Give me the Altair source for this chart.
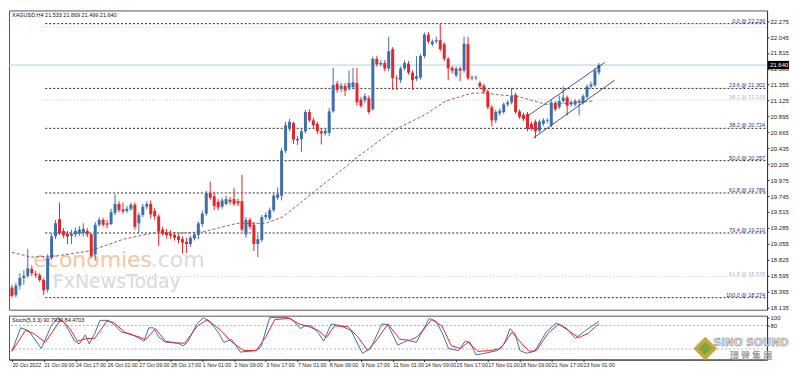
import altair as alt
import pandas as pd

# ---------------- data ----------------
title_text = "XAGUSD,H4  21.533 21.669 21.499 21.640"
stoch_text = "Stoch(5,3,3) 90.7930 84.4703"

opens = [18.42, 18.31, 18.45, 18.56, 18.59, 18.69, 18.62, 18.60, 18.53, 18.39,
         18.85, 19.16, 19.41, 19.24, 19.20, 19.17, 19.19, 19.20, 19.21, 19.24,
         19.19, 18.90, 19.33, 19.40, 19.35, 19.34, 19.50, 19.63, 19.55, 19.53,
         19.56, 19.62, 19.35, 19.47, 19.59, 19.63, 19.53, 19.45, 19.26, 19.22,
         19.20, 19.18, 19.16, 19.12, 19.08, 19.05, 19.13, 19.18, 19.34, 19.49,
         19.79, 19.74, 19.66, 19.59, 19.63, 19.69, 19.70, 19.67, 19.67, 19.19,
         19.40, 19.33, 19.05, 19.11, 19.44, 19.42, 19.54, 19.72, 19.75, 20.40,
         20.72, 20.80, 20.55, 20.57, 20.68, 20.96, 20.84, 20.79, 20.68, 20.65,
         20.66, 20.97, 21.37, 21.30, 21.34, 21.31, 21.32, 21.38, 21.14, 21.13,
         21.16, 21.00, 21.73, 21.65, 21.67, 21.59, 21.87, 21.45, 21.42, 21.59,
         21.66, 21.53, 21.44, 21.46, 21.77, 22.08, 21.94, 21.98, 22.00, 21.94,
         21.73, 21.60, 21.49, 21.59, 21.56, 21.94, 21.46, 21.45, 21.38, 21.34,
         21.26, 21.03, 20.84, 20.94, 20.96, 21.07, 21.10, 21.21, 20.97, 20.92,
         20.93, 20.79, 20.82, 20.69, 20.79, 20.83, 20.77, 21.09, 21.03, 21.12,
         21.17, 21.07, 21.07, 21.10, 21.10, 21.18, 21.33, 21.35, 21.533]
highs = [18.46, 18.49, 18.63, 18.67, 18.98, 18.74, 18.66, 18.63, 18.56, 18.90,
         19.21, 19.40, 19.65, 19.28, 19.24, 19.26, 19.29, 19.31, 19.35, 19.28,
         19.21, 19.37, 19.44, 19.43, 19.40, 19.56, 19.77, 19.67, 19.65, 19.60,
         19.65, 19.65, 19.51, 19.63, 19.67, 19.68, 19.57, 19.48, 19.30, 19.27,
         19.25, 19.22, 19.19, 19.16, 19.14, 19.17, 19.22, 19.38, 19.53, 19.82,
         19.95, 19.81, 19.70, 19.72, 19.75, 19.73, 19.86, 19.71, 20.05, 19.44,
         19.43, 19.37, 19.19, 19.47, 19.51, 19.58, 19.78, 19.87, 20.44, 20.82,
         20.86, 20.82, 20.61, 20.72, 20.99, 21.00, 20.88, 20.82, 20.72, 20.73,
         21.02, 21.60, 21.41, 21.38, 21.38, 21.56, 21.60, 21.60, 21.18, 21.23,
         21.20, 21.76, 21.77, 21.71, 21.71, 22.05, 21.90, 21.49, 21.62, 21.71,
         21.70, 21.56, 21.77, 21.80, 22.11, 22.12, 22.01, 22.05, 22.239, 21.97,
         21.76, 21.63, 21.62, 21.62, 22.05, 22.05, 21.49, 21.49, 21.41, 21.37,
         21.29, 21.06, 20.99, 21.01, 21.10, 21.13, 21.31, 21.24, 21.00, 20.95,
         20.96, 20.82, 20.85, 20.85, 20.87, 20.87, 21.13, 21.12, 21.20, 21.33,
         21.20, 21.13, 21.15, 21.15, 21.22, 21.36, 21.40, 21.60, 21.669]
lows = [18.274, 18.28, 18.39, 18.46, 18.56, 18.59, 18.56, 18.50, 18.31, 18.35,
        18.82, 19.12, 19.18, 19.14, 19.05, 19.05, 19.15, 19.17, 19.16, 19.15,
        18.84, 18.81, 19.30, 19.30, 19.28, 19.32, 19.47, 19.51, 19.49, 19.50,
        19.53, 19.26, 19.21, 19.44, 19.55, 19.42, 19.40, 19.02, 19.17, 19.13,
        19.12, 19.10, 19.06, 18.91, 18.92, 19.01, 19.10, 19.12, 19.30, 19.46,
        19.69, 19.54, 19.54, 19.56, 19.61, 19.62, 19.60, 19.60, 19.23, 19.14,
        19.26, 18.95, 18.86, 19.08, 19.40, 19.39, 19.51, 19.69, 19.68, 20.37,
        20.68, 20.50, 20.48, 20.38, 20.65, 20.81, 20.72, 20.64, 20.49, 20.62,
        20.61, 20.95, 21.24, 21.25, 21.19, 21.27, 21.29, 21.05, 21.02, 21.09,
        20.93, 20.98, 21.62, 21.62, 21.55, 21.55, 21.28, 21.28, 21.38, 21.56,
        21.50, 21.28, 21.41, 21.43, 21.74, 21.95, 21.91, 21.95, 21.84, 21.70,
        21.42, 21.52, 21.46, 21.41, 21.53, 21.42, 21.42, 21.42, 21.30, 21.22,
        21.00, 20.75, 20.80, 20.91, 20.93, 21.04, 21.07, 20.93, 20.86, 20.83,
        20.68, 20.69, 20.58, 20.66, 20.76, 20.80, 20.74, 20.97, 21.00, 21.09,
        20.91, 21.04, 21.04, 20.91, 21.07, 21.15, 21.30, 21.32, 21.499]
closes = [18.30, 18.45, 18.56, 18.59, 18.70, 18.63, 18.60, 18.53, 18.38, 18.85,
          19.16, 19.35, 19.21, 19.18, 19.16, 19.20, 19.24, 19.26, 19.27, 19.19,
          18.88, 19.33, 19.40, 19.33, 19.33, 19.51, 19.63, 19.54, 19.52, 19.56,
          19.62, 19.30, 19.47, 19.59, 19.63, 19.48, 19.45, 19.23, 19.20, 19.18,
          19.17, 19.14, 19.11, 19.07, 19.05, 19.14, 19.19, 19.35, 19.49, 19.79,
          19.72, 19.60, 19.58, 19.68, 19.70, 19.66, 19.63, 19.64, 19.26, 19.40,
          19.30, 19.05, 19.12, 19.44, 19.47, 19.54, 19.75, 19.77, 20.40, 20.77,
          20.82, 20.56, 20.57, 20.68, 20.96, 20.84, 20.77, 20.68, 20.65, 20.69,
          20.97, 21.35, 21.28, 21.34, 21.27, 21.38, 21.39, 21.10, 21.05, 21.19,
          20.96, 21.73, 21.65, 21.67, 21.59, 21.84, 21.45, 21.44, 21.59, 21.67,
          21.53, 21.42, 21.48, 21.77, 22.08, 21.98, 21.98, 22.00, 21.87, 21.73,
          21.59, 21.56, 21.59, 21.56, 21.95, 21.45, 21.45, 21.46, 21.33, 21.26,
          21.03, 20.84, 20.96, 20.98, 21.07, 21.10, 21.19, 20.96, 20.89, 20.86,
          20.72, 20.72, 20.68, 20.82, 20.84, 20.84, 21.10, 21.00, 21.12, 21.17,
          21.05, 21.10, 21.12, 21.12, 21.19, 21.33, 21.36, 21.56, 21.640]

price_ticks = [22.275, 22.045, 21.815, 21.585, 21.355, 21.125, 20.895, 20.665,
               20.435, 20.205, 19.975, 19.745, 19.515, 19.285, 19.055, 18.825,
               18.595, 18.365, 18.135]

date_labels = ["20 Oct 2022", "21 Oct 09:00", "24 Oct 17:00", "26 Oct 01:00",
               "27 Oct 09:00", "28 Oct 17:00", "1 Nov 01:00", "2 Nov 09:00",
               "3 Nov 17:00", "7 Nov 01:00", "8 Nov 09:00", "9 Nov 17:00",
               "11 Nov 01:00", "14 Nov 09:00", "15 Nov 17:00", "17 Nov 01:00",
               "18 Nov 09:00", "21 Nov 17:00", "23 Nov 01:00"]
date_ticks = [0, 8, 16, 24, 32, 40, 48, 56, 64, 72, 80, 88, 96, 104, 112, 120,
              128, 136, 144]

fib_names = ["0.0", "23.6", "38.2", "50.0", "61.8", "76.4", "100.0"]
fib_levels = [22.239, 21.302, 20.724, 20.257, 19.789, 19.210, 18.274]
fib_start = 8.4

faint_levels = [22.19, 21.133, 18.578]
faint_labels = ["", "38.2 @ 21.133", "61.8 @ 18.578"]
faint_start = 7.4

ma_idx = [0, 4.9, 11.6, 19.7, 28.1, 35.5, 43.6, 48.5, 56.7, 64, 68.2, 72.4, 77.3,
          84.7, 86.2, 96.1, 104.4, 109.4, 115.8, 119.2, 122.4, 127.3, 134.7,
          141.4, 146.6]
ma_val = [18.93, 18.86, 18.88, 18.95, 19.12, 19.21, 19.21, 19.23, 19.35, 19.35,
          19.44, 19.63, 19.86, 20.19, 20.27, 20.69, 20.93, 21.12, 21.23, 21.24,
          21.21, 21.19, 21.07, 21.09, 21.12]

ch_seg = ["upper", "upper", "lower", "lower"]
ch_idx = [130.2, 149.5, 131.5, 152.0]
ch_val = [20.909, 21.678, 20.584, 21.422]

k_idx = [0, 2.2, 4.2, 7.4, 9.9, 11.6, 13.3, 15.8, 17, 18.5, 19.5, 20.9, 22.2, 24.4,
         25.9, 27.6, 29.6, 31.8, 33.3, 34.5, 35.7, 37, 38.7, 40.4, 41.9, 43.1,
         44.3, 46.6, 48.3, 50.2, 52.2, 53.4, 55.4, 57.6, 59.6, 61.6, 62.8, 65,
         67.5, 69.5, 70.7, 72.7, 73.9, 75.6, 77.3, 78.6, 80.5, 83, 85.5, 88.4,
         90.4, 93.3, 94.8, 97.3, 99.8, 102, 105.2, 106.9, 108.4, 110.1, 112.6,
         114.3, 115.5, 117, 119.2, 122.4, 124.1, 125.6, 126.8, 128.1, 129.8,
         131.8, 134.7, 137.2, 139.7, 142.1, 144.6, 148]
k_val = [14, 74, 67, 21, 79, 100, 86, 40, 33, 56, 33, 60, 93, 93, 81, 63, 60, 49,
         40, 74, 74, 51, 37, 37, 35, 28, 37, 84, 100, 86, 60, 37, 44, 12, 14, 16,
         26, 100, 100, 100, 95, 72, 79, 79, 60, 40, 84, 79, 67, 9, 21, 84, 81, 30,
         42, 37, 98, 91, 63, 21, 16, 40, 37, 5, 9, 16, 33, 72, 60, 16, 9, 14, 63,
         86, 74, 47, 67, 90.8]
d_idx = [0, 3.4, 5.4, 8.4, 12.3, 14.5, 16.5, 19, 20.9, 23.9, 25.6, 28.8, 32, 33.7,
         36.2, 38.7, 41.1, 43.6, 46.8, 49.3, 52.7, 55.2, 58.4, 61.6, 64, 66.3,
         69.9, 72.4, 74.9, 77.3, 79.3, 81.3, 84.7, 87.2, 89.7, 92.1, 94.8, 97.8,
         100.2, 102.2, 105.9, 108.4, 110.8, 113.1, 115, 117.5, 120.7, 123.2,
         126.1, 128.6, 130.5, 132.2, 135.2, 137.9, 140.9, 142.9, 145.3, 148]
d_val = [14, 67, 60, 37, 95, 74, 40, 47, 47, 91, 88, 60, 51, 44, 72, 40, 35, 35,
         79, 95, 67, 40, 16, 16, 51, 95, 98, 84, 77, 67, 49, 79, 77, 51, 16, 44,
         84, 45, 42, 51, 95, 79, 28, 21, 37, 14, 16, 21, 63, 33, 14, 16, 60, 84,
         63, 49, 60, 84.5]
stoch_levels = [80, 20]
stoch_ticks = [100, 80]

# ---------------- layout ----------------
W, H1, H2 = 760, 300, 44
X_DOM = [-0.74, 190.4]
Y_DOM = [18.10, 22.43]
S_DOM = [-7, 105]
FONT = "DejaVu Sans"
AXFONT = "Liberation Sans"

n = len(opens)
candles = pd.DataFrame({"i": list(range(n)), "o": opens, "h": highs,
                        "l": lows, "c": closes})
candles["dir"] = ["up" if c >= o else "down" for o, c in zip(opens, closes)]

xs = alt.Scale(domain=X_DOM, nice=False, zero=False)
ys = alt.Scale(domain=Y_DOM, nice=False, zero=False)
ss = alt.Scale(domain=S_DOM, nice=False, zero=False)
col = alt.Color("dir:N", scale=alt.Scale(domain=["up", "down"],
                range=["#3f6fa8", "#e3262a"]), legend=None)

yaxis = alt.Axis(orient="right", values=price_ticks, format=".3f", title=None,
                 labelFontSize=6, tickSize=2, labelPadding=1, grid=False,
                 domainColor="#333", tickColor="#333", labelColor="#222",
                 labelFont=AXFONT)

fib = pd.DataFrame({"lvl": fib_levels, "x0": fib_start, "x1": X_DOM[1]})
fib["label"] = [f"{a} @ {b:.3f}" for a, b in zip(fib_names, fib_levels)]
faint = pd.DataFrame({"lvl": faint_levels, "label": faint_labels,
                      "x0": faint_start, "x1": X_DOM[1]})

X = lambda f: alt.X(f, scale=xs, axis=None)
Y = lambda f: alt.Y(f, scale=ys, axis=yaxis)

faint_rules = alt.Chart(faint).mark_rule(strokeDash=[1, 2], color="#c4c4c4").encode(
    x=X("x0:Q"), x2="x1:Q", y=Y("lvl:Q"))
faint_text = alt.Chart(faint).mark_text(align="right", baseline="bottom", fontSize=5.5,
                                        color="#b4b4c8", font=AXFONT, dx=-2).encode(
    x=X("x1:Q"), y=Y("lvl:Q"), text="label:N")
fib_rules = alt.Chart(fib).mark_rule(strokeDash=[2, 2], color="#2a2a2a").encode(
    x=X("x0:Q"), x2="x1:Q", y=Y("lvl:Q"))
fib_text = alt.Chart(fib).mark_text(align="right", baseline="bottom", fontSize=5.5,
                                    color="#2e2e7a", font=AXFONT, dx=-2).encode(
    x=X("x1:Q"), y=Y("lvl:Q"), text="label:N")

last = pd.DataFrame({"p": [closes[-1]], "t": [f"{closes[-1]:.3f}"],
                     "pt": [closes[-1] + 0.06], "pb": [closes[-1] - 0.06]})
price_line = alt.Chart(last).mark_rule(color="#a8d3de").encode(y=Y("p:Q"))
price_box = alt.Chart(last).mark_rect(color="#000000").encode(
    x=alt.value(W + 1), x2=alt.value(W + 22), y=Y("pt:Q"), y2="pb:Q")
price_txt = alt.Chart(last).mark_text(align="left", baseline="middle", fontSize=6,
                                      color="#ffffff", font=AXFONT).encode(
    x=alt.value(W + 3), y=Y("p:Q"), text="t:N")

wm1 = pd.DataFrame({"x": [5.4], "y": [18.72], "t": ["economies"]})
wm2 = pd.DataFrame({"x": [35.0], "y": [18.72], "t": [".com"]})
wm3 = pd.DataFrame({"x": [10.3], "y": [18.42], "t": ["FxNewsToday"]})
water1 = alt.Chart(wm1).mark_text(align="left", baseline="alphabetic", fontSize=22,
                                  color="#f3c6a6", font=FONT).encode(
    x=X("x:Q"), y=Y("y:Q"), text="t:N")
water2 = alt.Chart(wm2).mark_text(align="left", baseline="alphabetic", fontSize=22,
                                  color="#dadada", font=FONT).encode(
    x=X("x:Q"), y=Y("y:Q"), text="t:N")
water3 = alt.Chart(wm3).mark_text(align="left", baseline="alphabetic", fontSize=19,
                                  color="#d9d9d9", font=FONT).encode(
    x=X("x:Q"), y=Y("y:Q"), text="t:N")

ma = pd.DataFrame({"i": ma_idx, "v": ma_val})
ma_line = alt.Chart(ma).mark_line(strokeDash=[3, 2], color="#a45b5b",
                                  strokeWidth=1).encode(x=X("i:Q"), y=Y("v:Q"))

wicks = alt.Chart(candles).mark_rule(strokeWidth=1).encode(
    x=X("i:Q"), y=Y("l:Q"), y2="h:Q", color=col)
bodies = alt.Chart(candles).mark_rule(strokeWidth=3).encode(
    x=X("i:Q"), y=Y("o:Q"), y2="c:Q", color=col)

ch = pd.DataFrame({"seg": ch_seg, "i": ch_idx, "v": ch_val})
channel = alt.Chart(ch).mark_line(color="#1d2b5e", strokeWidth=0.8).encode(
    x=X("i:Q"), y=Y("v:Q"), detail="seg:N")

ttl = alt.Chart(pd.DataFrame({"t": [title_text]})).mark_text(
    align="left", baseline="top", fontSize=5.5, color="#111", font=AXFONT).encode(
    x=alt.value(3), y=alt.value(3), text="t:N")

main = alt.layer(faint_rules, faint_text, fib_rules, fib_text, price_line,
                 water1, water2, water3, ma_line, wicks, bodies, channel,
                 ttl, price_box, price_txt).properties(width=W, height=H1)

# ---------------- stochastic panel ----------------
label_expr = "[" + ",".join(f"'{s}'" for s in date_labels) + "][round(datum.value/8)]"
xaxis = alt.Axis(values=date_ticks, labelExpr=label_expr, labelAlign="left",
                 labelFontSize=5.3, labelFont=AXFONT, tickSize=2, labelPadding=1,
                 grid=False, title=None, labelOverlap=False, labelFlush=False,
                 labelBound=False, domainColor="#333", tickColor="#333",
                 labelColor="#222")
saxis = alt.Axis(orient="right", values=stoch_ticks, title=None, labelFontSize=6,
                 labelFont=AXFONT, tickSize=2, labelPadding=1, grid=False,
                 domainColor="#333", tickColor="#333", labelColor="#222")

kd = pd.concat([pd.DataFrame({"i": k_idx, "v": k_val, "s": "K"}),
                pd.DataFrame({"i": d_idx, "v": d_val, "s": "D"})])
lv = pd.DataFrame({"v": stoch_levels})

SY = lambda f: alt.Y(f, scale=ss, axis=saxis)
SX = lambda f: alt.X(f, scale=xs, axis=xaxis)

s_levels = alt.Chart(lv).mark_rule(strokeDash=[2, 2], color="#b0b0b0").encode(
    y=SY("v:Q"))
s_lines = alt.Chart(kd).mark_line(strokeWidth=1).encode(
    x=SX("i:Q"), y=SY("v:Q"),
    color=alt.Color("s:N", scale=alt.Scale(domain=["K", "D"],
                    range=["#1b1f5c", "#e2625f"]), legend=None),
    order=alt.Order("s:N"))
s_title = alt.Chart(pd.DataFrame({"t": [stoch_text]})).mark_text(
    align="left", baseline="top", fontSize=5.5, color="#111", font=AXFONT).encode(
    x=alt.value(3), y=alt.value(2), text="t:N")

logo_df = pd.DataFrame({"a": ["SINO SOUND"], "b": ["環 聲 集 團"]})
logo_d1 = alt.Chart(logo_df).mark_point(shape="diamond", filled=True, size=560,
                                         color="#c2a83e", opacity=1).encode(
    x=alt.value(698), y=alt.value(33))
logo_d2 = alt.Chart(logo_df).mark_point(shape="diamond", filled=True, size=170,
                                         color="#7fa63c", opacity=1).encode(
    x=alt.value(698), y=alt.value(33))
logo_t1 = alt.Chart(logo_df).mark_text(fontSize=10.5, fontWeight="bold", font=FONT,
                                       color="#e6e6e6", stroke="#8a8a8a",
                                       strokeWidth=0.6).encode(
    x=alt.value(744), y=alt.value(27), text="a:N")
logo_t2 = alt.Chart(logo_df).mark_text(fontSize=9, fontWeight="bold",
                                       font="Noto Sans CJK TC",
                                       color="#9a9a9a").encode(
    x=alt.value(744), y=alt.value(40), text="b:N")

stoch = alt.layer(s_levels, s_lines, s_title, logo_d1, logo_d2, logo_t1,
                  logo_t2).properties(width=W, height=H2)

chart = alt.vconcat(main, stoch, spacing=2).properties(
    padding={"left": 0, "top": 1, "right": 0, "bottom": 0},
    background="#ffffff"
).configure_view(stroke="#555555", strokeWidth=1)

chart.save("out.html", embed_options={"renderer": "svg", "actions": False})
